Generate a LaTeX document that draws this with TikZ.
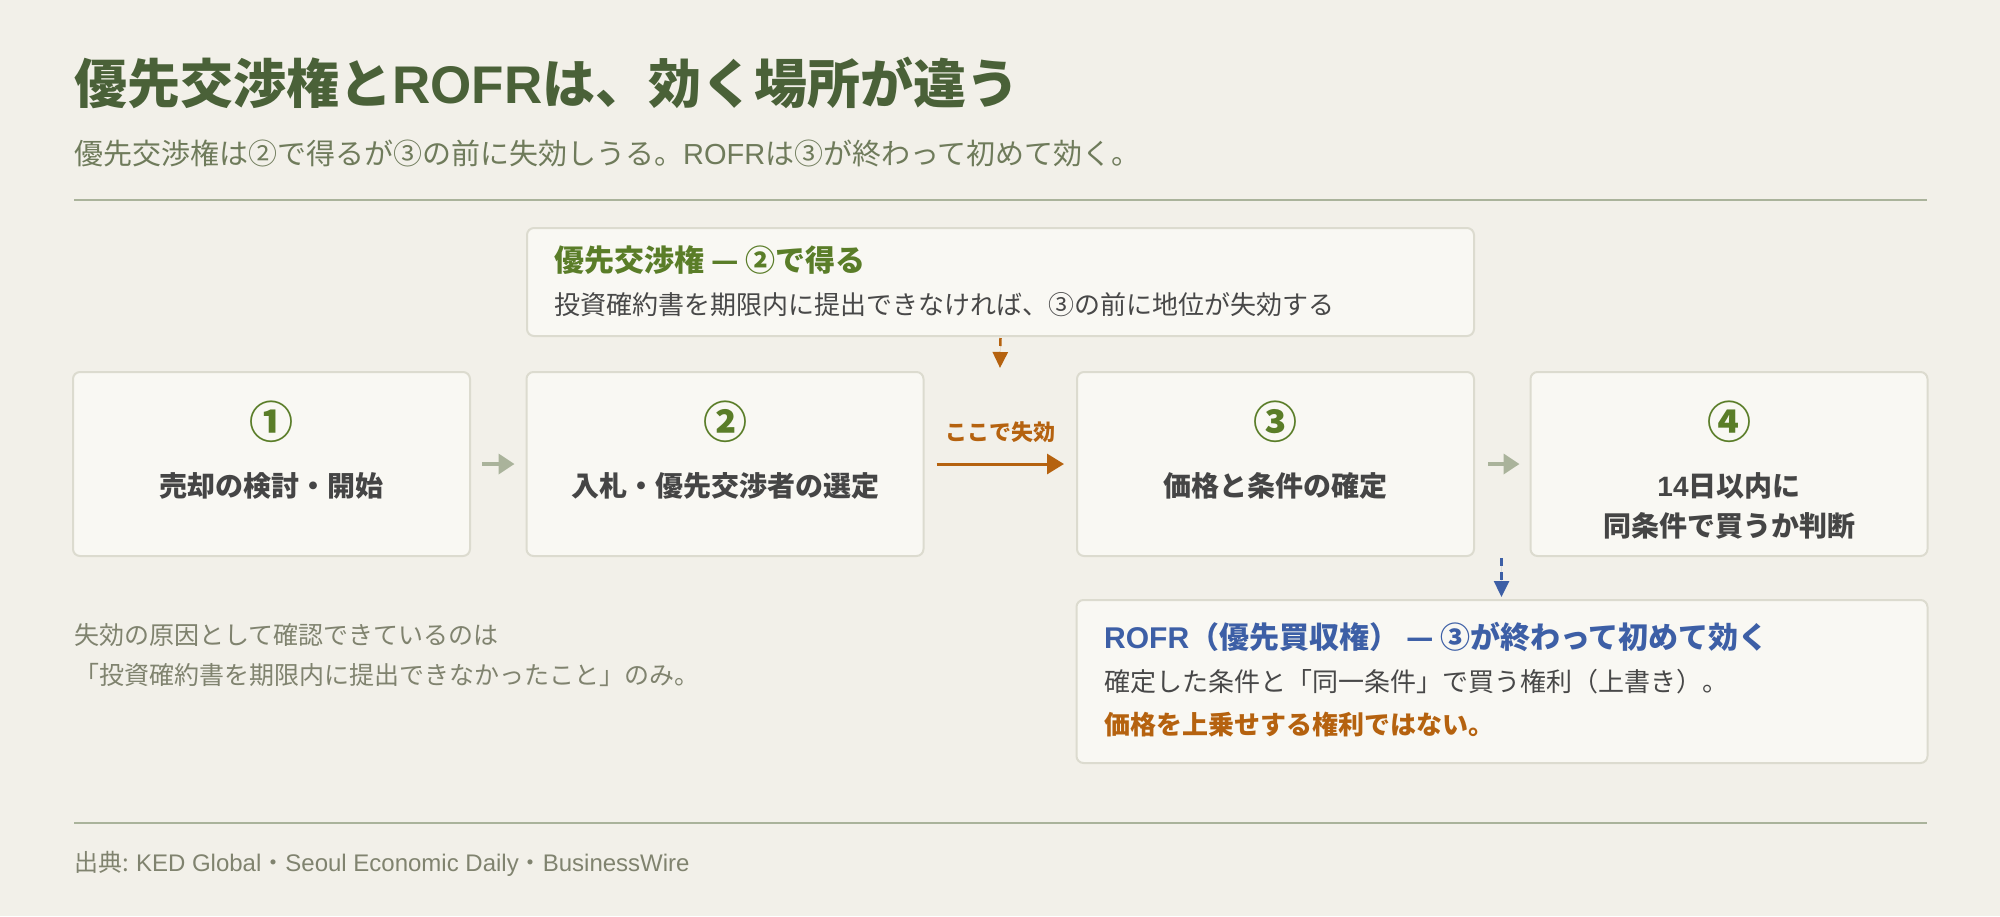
\documentclass[tikz,border=0pt]{standalone}
\usepackage{fontspec}
\setmainfont{Noto Sans CJK JP}
\newfontfamily\lat{Liberation Sans}
\usetikzlibrary{arrows.meta}
\definecolor{bg}{HTML}{F2F0E9}
\definecolor{boxfill}{HTML}{F9F8F3}
\definecolor{boxline}{HTML}{DCDBCF}
\definecolor{titlegreen}{HTML}{4A6138}
\definecolor{subgreen}{HTML}{6F7B5B}
\definecolor{numgreen}{HTML}{5A7D28}
\definecolor{orng}{HTML}{B5620F}
\definecolor{blu}{HTML}{3D5FA6}
\definecolor{darktext}{HTML}{454545}
\definecolor{bodytext}{HTML}{484848}
\definecolor{notetext}{HTML}{80836F}
\definecolor{rulecol}{HTML}{AAB39B}
\tikzset{
  stepbox/.style={draw=boxline, line width=2pt, fill=boxfill, rounded corners=7pt, inner sep=0pt},
  txt/.style={inner sep=0pt, anchor=base west},
  ctxt/.style={inner sep=0pt, anchor=base},
  numlbl/.style={ctxt, text=numgreen, font=\fontsize{44}{48}\selectfont\bfseries},
  boxlbl/.style={ctxt, text=darktext, font=\fontsize{28}{32}\selectfont\bfseries},
  grayarrow/.style={draw=rulecol, line width=3.5pt, -{Triangle[length=16pt,width=20pt]}},
  orangearrow/.style={draw=orng, line width=3pt, -{Triangle[length=17pt,width=20pt]}},
  dasharrow/.style={line width=2.5pt, dash pattern=on 8pt off 6pt, -{Triangle[length=16pt,width=15pt]}},
  rulel/.style={draw=rulecol, line width=2pt}
}
\begin{document}
\begin{tikzpicture}[x=1pt,y=-1pt]
\fill[bg] (0,0) rectangle (2000,916);
\useasboundingbox (0,0) rectangle (2000,916);

% title and subtitle
\node[txt, text=titlegreen, font=\fontsize{53}{60}\selectfont\bfseries] (title) at (74,103) {優先交渉権と{\lat ROFR}は、効く場所が違う};
\node[txt, text=subgreen, font=\fontsize{29}{33}\selectfont] (subtitle) at (74,164.5) {優先交渉権は②で得るが③の前に失効しうる。{\lat ROFR}は③が終わって初めて効く。};
\coordinate (r1a) at (74,200);
\coordinate (r1b) at (1927,200);
\draw[rulel] (r1a) -- (r1b);

% top box
\node[stepbox, minimum width=947pt, minimum height=108pt] (topbox) at (1000.5,282) {};
\node[txt, text=numgreen, font=\fontsize{30}{34}\selectfont\bfseries] (toptitle) at (554,271) {優先交渉権 — ②で得る};
\node[txt, text=bodytext, font=\fontsize{26}{30}\selectfont] (topline) at (554,314) {投資確約書を期限内に提出できなければ、③の前に地位が失効する};

% step boxes
\node[stepbox, minimum width=397pt, minimum height=184pt] (b1) at (271.5,464) {};
\node[stepbox, minimum width=397pt, minimum height=184pt] (b2) at (725,464) {};
\node[stepbox, minimum width=397pt, minimum height=184pt] (b3) at (1275.5,464) {};
\node[stepbox, minimum width=397pt, minimum height=184pt] (b4) at (1729,464) {};

\node[numlbl] (n1) at (271.5,438) {①};
\node[numlbl] (n2) at (725,438) {②};
\node[numlbl] (n3) at (1275.5,438) {③};
\node[numlbl] (n4) at (1729,438) {④};

\node[boxlbl] (l1) at (271.5,496) {売却の検討・開始};
\node[boxlbl] (l2) at (725,496) {入札・優先交渉者の選定};
\node[boxlbl] (l3) at (1275.5,496) {価格と条件の確定};
\node[boxlbl] (l4a) at (1729,496) {{\lat 14}日以内に};
\node[boxlbl] (l4b) at (1729,536) {同条件で買うか判断};

% connectors
\draw[grayarrow, shorten <=11pt, shorten >=11pt] (b1.east) -- (b2.west);
\draw[grayarrow, shorten <=13pt, shorten >=10pt] (b3.east) -- (b4.west);
\draw[orangearrow, shorten <=12pt, shorten >=12pt] (b2.east) -- (b3.west);
\node[ctxt, text=orng, font=\fontsize{22}{26}\selectfont\bfseries] (lapse) at (1000,440) {ここで失効};
\coordinate (od) at (1000,368);
\draw[dasharrow, draw=orng, fill=orng] (topbox.south) ++(0,1) -- (od);

% bottom box
\node[stepbox, minimum width=851pt, minimum height=163pt] (botbox) at (1502,681.5) {};
\coordinate (bd1) at (1501.5,558);
\coordinate (bd2) at (1501.5,597);
\draw[dasharrow, draw=blu, fill=blu] (bd1) -- (bd2);
\node[txt, text=blu, font=\fontsize{30}{34}\selectfont\bfseries] (bottitle) at (1104,648) {{\lat ROFR}（優先買収権） — ③が終わって初めて効く};
\node[txt, text=bodytext, font=\fontsize{26}{30}\selectfont] (botline) at (1104,691) {確定した条件と「同一条件」で買う権利（上書き）。};
\node[txt, text=orng, font=\fontsize{26}{30}\selectfont\bfseries] (botwarn) at (1104,734) {価格を上乗せする権利ではない。};

% note
\node[txt, text=notetext, font=\fontsize{25}{29}\selectfont] (note1) at (74,644) {失効の原因として確認できているのは};
\node[txt, text=notetext, font=\fontsize{25}{29}\selectfont] (note2) at (74,684) {「投資確約書を期限内に提出できなかったこと」のみ。};

% footer
\coordinate (r2a) at (74,823);
\coordinate (r2b) at (1927,823);
\draw[rulel] (r2a) -- (r2b);
\node[txt, text=notetext, font=\fontsize{24}{28}\selectfont] (source) at (74,871.5) {出典: {\lat KED Global}・{\lat Seoul Economic Daily}・{\lat BusinessWire}};
\end{tikzpicture}
\end{document}
